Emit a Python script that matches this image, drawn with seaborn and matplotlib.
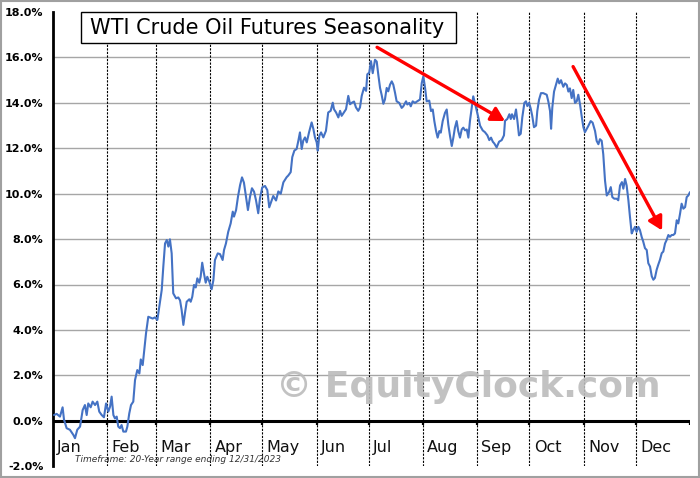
import matplotlib
matplotlib.use("Agg")
import matplotlib.pyplot as plt
import seaborn as sns
import pandas as pd
from matplotlib.patches import Rectangle

# ---- data (day of year, seasonal % gain) ----
day = [0.6, 2.1, 4.0, 5.5, 6.3, 7.8, 9.7, 11.7, 12.6, 13.9, 15.5, 17.0, 18.3, 19.3, 20.2,
       21.6, 22.7, 24.1, 25.4, 26.5, 27.9, 29.2, 30.4, 31.7, 32.7, 33.6, 34.6, 35.5, 36.5,
       37.4, 38.4, 39.3, 40.3, 41.8, 42.6, 43.7, 44.7, 46.0, 47.0, 48.3, 49.5, 50.3, 51.4,
       52.5, 53.3, 54.6, 57.1, 58.4, 59.8, 60.9, 62.3, 63.2, 64.2, 65.2, 66.1, 67.0, 68.0,
       68.9, 70.5, 71.8, 72.8, 73.7, 74.7, 75.6, 76.6, 78.1, 78.9, 79.8, 80.8, 81.8, 82.7,
       83.8, 84.6, 85.5, 86.5, 87.5, 88.4, 89.6, 90.9, 91.9, 92.8, 94.4, 95.7, 97.2, 98.0,
       99.1, 100.4, 101.8, 103.0, 103.7, 104.9, 106.0, 107.2, 108.3, 109.4, 110.6, 111.7,
       112.9, 114.0, 115.2, 116.3, 117.6, 118.6, 119.9, 121.5, 122.8, 123.9, 125.3, 126.2,
       127.8, 129.1, 130.5, 132.0, 133.9, 134.8, 136.2, 137.1, 138.3, 139.6, 140.6, 141.5,
       142.5, 143.4, 144.4, 145.4, 146.7, 148.2, 149.2, 150.1, 151.1, 151.7, 152.6, 153.6,
       154.9, 156.4, 157.7, 159.1, 160.3, 161.0, 162.2, 163.5, 164.5, 165.4, 166.7, 167.9,
       169.2, 170.2, 171.3, 172.5, 173.6, 174.9, 175.9, 176.9, 178.2, 179.4, 180.1, 181.2,
       182.2, 183.2, 184.5, 185.5, 186.4, 187.4, 188.3, 189.3, 190.2, 191.2, 192.1, 193.1,
       194.1, 195.0, 196.0, 196.9, 198.4, 199.8, 200.7, 202.3, 203.0, 204.2, 205.0, 206.1,
       207.4, 208.7, 210.3, 211.3, 212.2, 213.2, 214.1, 215.6, 216.6, 217.6, 218.5, 219.5,
       220.4, 221.4, 222.2, 223.3, 224.6, 225.6, 226.5, 227.5, 228.5, 229.4, 230.3, 231.3,
       232.2, 233.2, 234.2, 235.1, 236.1, 237.1, 238.0, 238.9, 239.9, 240.8, 242.4, 243.7,
       244.7, 246.2, 247.5, 248.9, 250.0, 251.0, 252.0, 252.9, 254.2, 255.6, 257.1, 258.4,
       259.0, 260.3, 261.5, 262.3, 263.0, 264.2, 265.3, 266.1, 267.0, 268.0, 268.9, 270.1,
       271.0, 271.8, 272.8, 273.7, 274.6, 275.6, 276.8, 277.5, 278.5, 279.6, 280.9, 282.9,
       283.8, 284.8, 285.4, 286.1, 287.1, 288.2, 289.2, 290.1, 291.1, 292.4, 293.4, 294.4,
       295.3, 296.2, 297.2, 298.1, 299.1, 300.1, 301.0, 302.0, 302.9, 303.9, 304.8, 306.7,
       308.1, 309.2, 310.6, 311.5, 312.5, 313.4, 314.4, 315.3, 316.3, 317.3, 318.6, 319.6,
       320.5, 321.6, 323.0, 323.9, 324.9, 326.0, 326.8, 327.8, 328.7, 329.7, 330.6, 331.6,
       332.5, 333.5, 334.4, 335.4, 336.3, 337.3, 338.2, 339.2, 340.2, 341.1, 342.1, 343.1,
       344.0, 344.9, 345.9, 346.8, 347.8, 348.8, 349.7, 350.7, 351.6, 352.6, 353.5, 354.5,
       355.4, 356.4, 357.4, 358.3, 359.3, 360.2, 361.2, 362.2, 363.1, 364.0, 365.0]
pct = [0.25, 0.30, 0.18, 0.59, 0.05, -0.33, -0.40, -0.63, -0.77, -0.40, -0.26, 0.47, 0.69, 0.25, 0.76,
       0.59, 0.84, 0.69, 0.84, 0.40, 0.25, 0.15, 0.76, 0.40, 0.62, 1.06, 0.25, 0.10, 0.18,
       -0.26, -0.33, -0.19, -0.48, -0.48, -0.26, 0.32, 0.69, 0.84, 1.79, 2.23, 2.08, 2.70, 2.45,
       3.26, 3.85, 4.58, 4.50, 4.55, 4.44, 5.02, 5.76, 6.78, 7.81, 7.96, 7.67, 7.99, 7.37,
       5.61, 5.39, 5.43, 5.30, 4.88, 4.22, 4.73, 5.24, 5.35, 5.24, 5.46, 5.98, 5.87, 6.27,
       6.08, 6.34, 6.96, 6.49, 6.08, 6.34, 6.12, 5.79, 6.19, 7.08, 7.37, 7.34, 7.08, 7.52,
       7.81, 8.32, 8.69, 9.21, 8.99, 9.28, 9.87, 10.38, 10.72, 10.49, 9.87, 9.28,
       9.87, 10.24, 10.09, 9.72, 9.14, 9.80, 10.28, 10.34, 10.16, 9.40, 9.70, 9.90,
       9.70, 10.10, 10.00, 10.50, 10.73, 10.80, 10.95, 11.61, 11.90, 11.97, 12.34, 12.70,
       11.97, 12.34, 12.48, 12.26, 12.70, 13.14, 12.85, 12.48, 12.26, 11.90, 12.55, 12.70,
       12.48, 12.77, 13.58, 13.65, 14.01, 13.72, 13.58, 13.36, 13.65, 13.43, 13.58, 13.72,
       14.31, 13.94, 14.01, 14.06, 13.80, 13.65, 13.80, 14.31, 14.67, 14.53, 15.26, 15.33,
       15.84, 15.31, 15.90, 15.82, 15.24, 14.66, 14.36, 13.96, 14.15, 14.66, 14.51, 14.80,
       14.95, 14.80, 14.44, 14.07, 14.00, 13.78, 13.85, 14.07, 13.93, 14.00, 13.85, 14.07,
       14.00, 14.07, 14.15, 14.88, 15.17, 14.66, 14.07, 14.10, 13.64, 13.71, 13.20, 12.76,
       12.47, 12.76, 12.69, 13.20, 13.56, 13.71, 13.05, 12.54, 12.10, 12.47, 12.91, 13.20,
       12.76, 12.47, 12.83, 12.91, 12.79, 12.83, 12.47, 13.20, 13.78, 14.29, 13.79, 13.36,
       13.00, 12.79, 12.71, 12.57, 12.36, 12.47, 12.29, 12.21, 12.04, 12.29, 12.36, 12.57,
       13.21, 13.29, 13.50, 13.29, 13.50, 13.29, 13.71, 13.21, 12.57, 12.64, 13.36, 14.00,
       14.07, 13.86, 14.00, 13.76, 13.43, 12.93, 13.00, 13.64, 14.14, 14.43, 14.43, 14.36,
       14.07, 13.64, 12.86, 13.79, 14.50, 14.79, 15.07, 14.86, 15.00, 14.71, 14.86, 14.79,
       14.50, 14.64, 14.21, 14.57, 14.00, 14.07, 14.36, 13.93, 13.43, 12.93, 12.71, 12.98,
       13.20, 13.13, 12.76, 12.33, 12.18, 12.40, 12.33, 11.74, 10.58, 9.92, 10.07, 10.29,
       9.85, 9.78, 9.78, 9.71, 10.36, 10.51, 10.22, 10.65, 10.36, 9.71, 8.98, 8.25,
       8.40, 8.54, 8.32, 8.54, 8.40, 8.10, 7.89, 7.60, 7.52, 6.94, 6.79, 6.36,
       6.21, 6.29, 6.65, 6.87, 7.09, 7.38, 7.45, 7.81, 7.96, 8.18, 8.10, 8.18,
       8.18, 8.25, 8.83, 8.69, 9.12, 9.56, 9.34, 9.41, 9.85, 9.92, 10.07]

months = ["Jan", "Feb", "Mar", "Apr", "May", "Jun", "Jul", "Aug", "Sep", "Oct", "Nov", "Dec"]
month_start = [0, 31, 59, 90, 120, 151, 181, 212, 243, 273, 304, 334]
yticks = [-2, 0, 2, 4, 6, 8, 10, 12, 14, 16, 18]
title = "WTI Crude Oil Futures Seasonality"
footnote = "Timeframe: 20-Year range ending 12/31/2023"
watermark = "© EquityClock.com"

sns.set_style("white")
plt.rcParams['font.family'] = ['DejaVu Sans']

W, H = 700, 478
fig = plt.figure(figsize=(7, 4.78), dpi=100)
ax = fig.add_axes([53 / W, 1 - 466.1 / H, (690 - 53) / W, (466.1 - 12.1) / H])

df = pd.DataFrame({"day": day, "pct": pct})
sns.lineplot(data=df, x="day", y="pct", ax=ax, color="#4472C4", linewidth=1.5, zorder=6)

ax.set_xlim(0, 365)
ax.set_ylim(-2, 18)

for y in yticks:
    if 0 < y < 18:
        ax.axhline(y, color="#a6a6a6", lw=1.0, zorder=1)
for m in month_start[1:]:
    ax.axvline(m, color="black", lw=0.8, ls=(0, (2, 1.2)), zorder=2)
ax.axhline(0, color="black", lw=2.2, zorder=4)
ax.vlines(month_start[1:] + [365], -0.2, 0, color="black", lw=1.6, zorder=4)

ax.set_yticks(yticks)
ax.set_yticklabels([f"{v:.1f}%" for v in yticks], fontweight="bold", fontsize=8)
ax.set_xticks([])
ax.set_xlabel("")
ax.set_ylabel("")
for s in ["top", "right", "bottom"]:
    ax.spines[s].set_visible(False)
ax.spines["left"].set_linewidth(2)
ax.spines["left"].set_color("black")
ax.tick_params(axis="y", length=5, width=1.5, direction="out", pad=2, colors="black")

for d, name in zip(month_start, months):
    ax.text(d + 2.5, -1.4, name, fontsize=11.5, va="baseline", ha="left",
            color="#111111", zorder=5)

# arrows
arrow_kw = dict(arrowstyle="-|>,head_length=0.8,head_width=0.45", color="#ff0000",
                lw=2.4, shrinkA=0, shrinkB=0)
ax.annotate("", xy=(259, 13.2), xytext=(185.7, 16.45), arrowprops=arrow_kw, zorder=7)
ax.annotate("", xy=(349, 8.38), xytext=(298, 15.6), arrowprops=arrow_kw, zorder=7)

# title box
fig.add_artist(Rectangle((81 / W, 1 - 43.3 / H), (455.7 - 81) / W, (43.3 - 11.7) / H,
                         transform=fig.transFigure, fc="white", ec="black", lw=1.0, zorder=8))
fig.text(267 / W, 1 - 27.8 / H, title, fontsize=15, ha="center", va="center",
         color="black", zorder=9)

# watermark
fig.text(468 / W, 1 - 387 / H, watermark, fontsize=26, fontweight="bold", color="#bcbcbc",
         ha="center", va="center", alpha=0.9, zorder=3)

# footnote
fig.text(75 / W, 1 - 459.5 / H, footnote, fontsize=6.5, style="italic", color="#333333",
         ha="left", va="center")

# outer frame
fig.add_artist(Rectangle((0.002, 0.003), 0.996, 0.994, transform=fig.transFigure,
                         fill=False, ec="#a0a0a0", lw=1.5))

fig.savefig("out.png", dpi=100)
